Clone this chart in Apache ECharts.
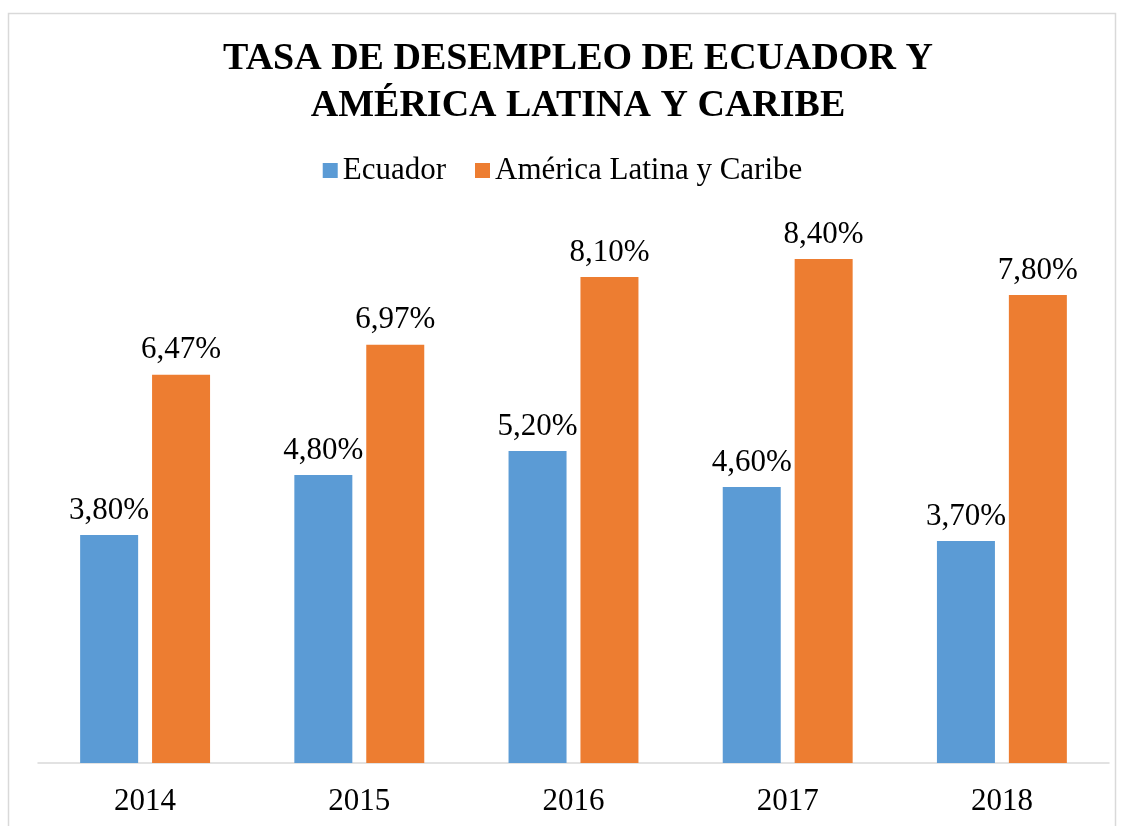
<!DOCTYPE html>
<html>
<head>
<meta charset="utf-8">
<title>Tasa de desempleo</title>
<script src="https://cdn.jsdelivr.net/npm/echarts@6/dist/echarts.min.js"></script>
<style>
  html, body { margin: 0; padding: 0; background: #fff; }
  #chart { width: 1125px; height: 826px; }
</style>
</head>
<body>
<div id="chart"></div>
<script>
// Data
const years = ['2014', '2015', '2016', '2017', '2018'];
const ecuador = [3.8, 4.8, 5.2, 4.6, 3.7];
const latam = [6.47, 6.97, 8.1, 8.4, 7.8];
const seriesNames = ['Ecuador', 'América Latina y Caribe'];

const FONT = '"Liberation Serif", "Times New Roman", serif';

const chart = echarts.init(document.getElementById('chart'), null, { renderer: 'canvas' });

// percent label in spanish style: 3,80%
const pct = p => p.value.toFixed(2).replace('.', ',') + '%';

const labelStyle = {
  show: true,
  position: 'top',
  distance: 9,
  formatter: pct,
  fontFamily: FONT,
  fontSize: 31,
  color: '#000'
};

chart.setOption({
  backgroundColor: '#fff',
  animation: false,
  graphic: [{
    type: 'rect',
    shape: { x: 8.5, y: 13.5, width: 1107, height: 830 },
    style: { fill: 'none', stroke: '#d9d9d9', lineWidth: 1.5 },
    silent: true
  }],
  title: {
    text: 'TASA DE DESEMPLEO DE ECUADOR Y\nAMÉRICA LATINA Y CARIBE',
    left: 573,
    textAlign: 'center',
    top: 31,
    textStyle: {
      fontFamily: FONT,
      fontSize: 38,
      fontWeight: 'bold',
      lineHeight: 47,
      color: '#000'
    }
  },
  legend: {
    top: 150,
    left: 'center',
    itemWidth: 15,
    itemHeight: 15,
    itemGap: 29,
    icon: 'rect',
    textStyle: { fontFamily: FONT, fontSize: 31, color: '#000' },
    data: seriesNames
  },
  grid: { left: 38, right: 16, top: 163, bottom: 63 },
  xAxis: {
    type: 'category',
    data: years,
    axisLine: { lineStyle: { color: '#d9d9d9', width: 1.5 } },
    axisTick: { show: false },
    axisLabel: { fontFamily: FONT, fontSize: 31, color: '#000', margin: 23 }
  },
  yAxis: {
    type: 'value',
    min: 0,
    max: 10,
    show: false
  },
  series: [
    {
      name: seriesNames[0],
      type: 'bar',
      data: ecuador,
      barWidth: 58,
      barGap: '24%',
      itemStyle: { color: '#5b9bd5' },
      label: labelStyle
    },
    {
      name: seriesNames[1],
      type: 'bar',
      data: latam,
      barWidth: 58,
      barGap: '24%',
      itemStyle: { color: '#ed7d31' },
      label: labelStyle
    }
  ]
});
</script>
</body>
</html>
